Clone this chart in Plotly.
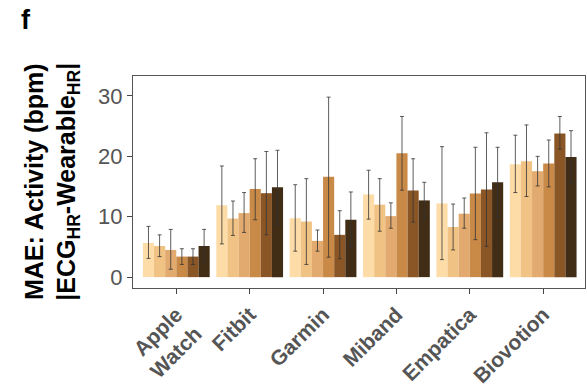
import plotly.graph_objects as go

devices = ["Apple<br>Watch", "Fitbit", "Garmin", "Miband", "Empatica", "Biovotion"]
colors = ["#FDDCA8", "#F0C283", "#E2AA6E", "#C98A47", "#8B5626", "#412C16"]

# values per condition (6 conditions), each list over devices
mae = [
    [5.65, 11.9, 9.75, 13.7, 12.2, 18.7],
    [5.15, 9.7, 9.2, 12.0, 8.3, 19.2],
    [4.5, 10.6, 6.0, 10.1, 10.5, 17.55],
    [3.4, 14.6, 16.6, 20.5, 13.85, 18.8],
    [3.4, 13.9, 7.0, 14.35, 14.5, 23.8],
    [5.15, 14.9, 9.5, 12.7, 15.7, 19.9],
]
err_hi = [
    [8.4, 18.4, 15.3, 17.7, 21.6, 23.5],
    [7.0, 12.6, 16.3, 16.3, 12.1, 25.2],
    [7.9, 14.0, 7.8, 12.3, 13.1, 20.0],
    [4.7, 19.6, 29.8, 26.6, 21.5, 22.7],
    [4.7, 20.8, 11.0, 19.6, 23.9, 26.6],
    [7.9, 21.0, 14.1, 15.7, 21.5, 24.25],
]
err_lo = [
    [3.1, 5.5, 4.3, 9.6, 2.9, 14.0],
    [3.4, 6.9, 2.1, 7.6, 4.5, 13.35],
    [1.3, 7.4, 4.3, 8.1, 8.1, 15.1],
    [2.1, 9.5, 3.3, 14.4, 6.2, 14.95],
    [2.1, 7.0, 3.05, 9.1, 5.1, 21.2],
    [2.5, 8.75, 4.9, 9.6, 10.0, 15.6],
]
y_ticks = [0, 10, 20, 30]

fig = go.Figure()
for i in range(6):
    fig.add_trace(go.Bar(
        x=devices,
        y=mae[i],
        marker=dict(color=colors[i], line=dict(width=0)),
        error_y=dict(
            type="data", symmetric=False,
            array=[h - v for h, v in zip(err_hi[i], mae[i])],
            arrayminus=[v - l for l, v in zip(err_lo[i], mae[i])],
            color="#333333", thickness=0.8, width=2,
        ),
        showlegend=False,
    ))

font_family = "Liberation Sans, Arial"
fig.update_layout(
    width=587, height=389,
    margin=dict(l=133, r=2, t=76, b=101),
    plot_bgcolor="white", paper_bgcolor="white",
    barmode="group", bargap=0.09, bargroupgap=0,
    xaxis=dict(
        range=[-0.59, 5.57], tickangle=-45,
        tickfont=dict(family=font_family, size=21, color="#555555"),
        ticks="outside", ticklen=5, tickcolor="#444444",
        showline=True, linecolor="#555555", linewidth=1, mirror=True,
        showgrid=False,
        tickprefix="<b>", ticksuffix="</b>",
    ),
    yaxis=dict(
        range=[-1.8, 33.3], tickvals=y_ticks,
        tickfont=dict(family=font_family, size=22, color="#555555"),
        ticks="outside", ticklen=5, tickcolor="#444444",
        showline=True, linecolor="#555555", linewidth=1, mirror=True,
        showgrid=False, zeroline=False,
        tickprefix="<b>", ticksuffix="</b>",
    ),
    annotations=[
        dict(text="<b>f</b>", x=-0.237, y=1.262, xref="paper", yref="paper",
             xanchor="center", yanchor="middle", showarrow=False,
             font=dict(family=font_family, size=27, color="black")),
        dict(text="<b>MAE: Activity (bpm)<br>|ECG<sub>HR</sub>-Wearable<sub>HR</sub>|</b>",
             textangle=-90, xref="paper", yref="paper", x=-0.18, y=0.5,
             xanchor="center", yanchor="middle", showarrow=False,
             font=dict(family=font_family, size=25, color="black")),
    ],
)
fig.write_html("out.html")
